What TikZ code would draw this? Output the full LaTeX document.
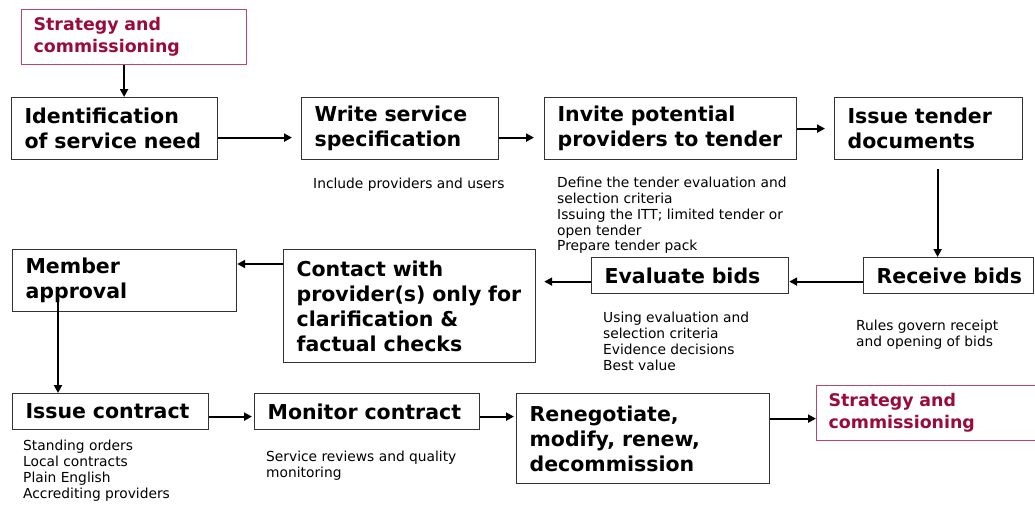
\documentclass[tikz,border=0pt]{standalone}
\usepackage{fontspec}
\setmainfont{DejaVu Sans}
\usetikzlibrary{arrows.meta}

\definecolor{stratred}{RGB}{155,10,60}
\definecolor{stratline}{RGB}{185,70,110}

\begin{document}
\begin{tikzpicture}[
    x=1pt, y=-1pt,
    stage/.style={draw=black!80, line width=1.2pt, anchor=north west, align=left,
                  inner xsep=13pt, inner ysep=0pt,
                  font=\bfseries\fontsize{20.5}{25}\selectfont},
    strat/.style={stage, draw=stratline, text=stratred, inner xsep=12pt,
                  font=\bfseries\fontsize{17.4}{22}\selectfont},
    note/.style={anchor=north west, align=left, inner sep=0pt,
                 font=\fontsize{13.8}{15.8}\selectfont},
    flow/.style={line width=2pt, -{Triangle[length=8pt, width=8pt]}},
]
\useasboundingbox (0,0) rectangle (1035,504);

% Top row
\node[strat, text width=201pt, minimum height=55pt] (strat1) at (21,9) {Strategy and\\commissioning};
\node[stage, text width=180pt, minimum height=62pt] (ident) at (11,97) {Identification\\of service need};
\node[stage, text width=171pt, minimum height=62pt] (write) at (301,97) {Write service\\specification};
\node[stage, text width=226pt, minimum height=62pt] (invite) at (544,97) {Invite potential\\providers to tender};
\node[stage, text width=162pt, minimum height=62pt] (tender) at (834,97) {Issue tender\\documents};

% Middle row
\node[stage, text width=198pt, minimum height=62pt] (member) at (12,249) {Member\\approval};
\node[stage, text width=226pt, minimum height=113pt] (contact) at (283,249) {Contact with\\provider(s) only for\\clarification \&\\factual checks};
\node[stage, text width=171pt, minimum height=36pt] (evaluate) at (591,257) {Evaluate bids};
\node[stage, text width=144pt, minimum height=36pt] (receive) at (863,257) {\mbox{Receive bids}};

% Bottom row
\node[stage, text width=170pt, minimum height=36pt] (contract) at (12,393) {Issue contract};
\node[stage, text width=199pt, minimum height=36pt] (monitor) at (254,393) {Monitor contract};
\node[stage, text width=227pt, minimum height=90pt] (reneg) at (516,393) {Renegotiate,\\modify, renew,\\decommission};
\node[strat, text width=201pt, minimum height=55pt] (strat2) at (816,385) {Strategy and\\commissioning};

% Notes under the steps
\node[note] (specnote) at (313,178) {Include providers and users};
\node[note] (invnote) at (557,177) {Define the tender evaluation and\\selection criteria\\Issuing the ITT; limited tender or\\open tender\\Prepare tender pack};
\node[note] (evalnote) at (603,312) {Using evaluation and\\selection criteria\\Evidence decisions\\Best value};
\node[note] (recvnote) at (856,320) {Rules govern receipt\\and opening of bids};
\node[note] (contnote) at (23,440) {Standing orders\\Local contracts\\Plain English\\Accrediting providers};
\node[note] (monnote) at (266,451) {Service reviews and quality\\monitoring};

% Arrows, top row
\draw[flow] ([xshift=-10pt]strat1.south) -- ([xshift=-10pt]strat1.south |- ident.north);
\draw[flow, shorten >=9pt] ([yshift=-9pt]ident.east) -- ([yshift=-9pt]ident.east -| write.west);
\draw[flow, shorten >=10pt] ([yshift=-9pt]write.east) -- ([yshift=-9pt]write.east -| invite.west);
\draw[flow, shorten >=9pt] (invite.east) -- (invite.east -| tender.west);
\draw[flow, shorten <=9pt] ([xshift=9pt]tender.south) -- ([xshift=9pt]tender.south |- receive.north);

% Arrows, middle row (right to left)
\draw[flow] ([yshift=-6pt]receive.west) -- ([yshift=-6pt]receive.west -| evaluate.east);
\draw[flow, shorten >=8pt] ([yshift=-6pt]evaluate.west) -- ([yshift=-6pt]evaluate.west -| contact.east);
\draw[flow] ([yshift=-15pt]contact.north west) -- ([yshift=-15pt]contact.north west -| member.east);
\coordinate (apprv) at (58,300);
\draw[flow] (apprv) -- (apprv |- contract.north);

% Arrows, bottom row
\draw[flow, shorten >=2pt] ([yshift=-5pt]contract.east) -- ([yshift=-5pt]contract.east -| monitor.west);
\draw[flow, shorten >=2pt] ([yshift=-5pt]monitor.east) -- ([yshift=-5pt]monitor.east -| reneg.west);
\draw[flow] ([yshift=20pt]reneg.east) -- ([yshift=20pt]reneg.east -| strat2.west);
\end{tikzpicture}
\end{document}
